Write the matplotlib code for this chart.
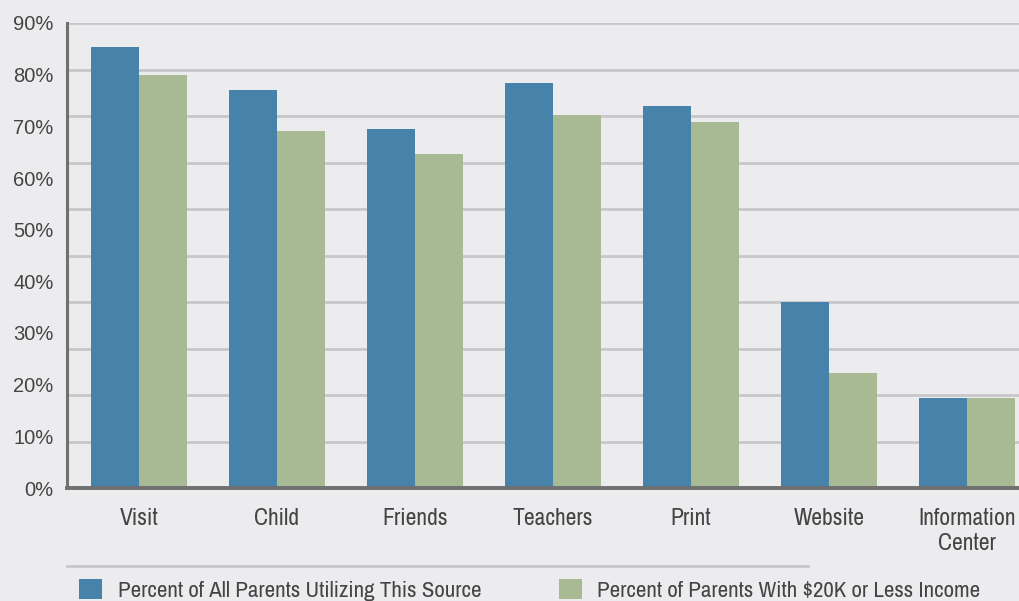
import numpy as np
import matplotlib.pyplot as plt
from matplotlib.lines import Line2D

categories = ["Visit", "Child", "Friends", "Teachers", "Print", "Website", "Information\nCenter"]
all_parents = [85.4, 77.0, 69.5, 78.4, 73.9, 36.0, 17.4]
low_income = [79.9, 69.1, 64.6, 72.2, 70.8, 22.3, 17.4]
series_labels = ["Percent of All Parents Utilizing This Source",
                 "Percent of Parents With $20K or Less Income"]
y_labels = ["0%", "10%", "20%", "30%", "40%", "50%", "60%", "70%", "80%", "90%"]

bg = "#ECECEE"
blue = "#4682A9"
green = "#A8BA94"
txt = "#444444"
narrow = ["Archivo Narrow", "DejaVu Sans"]

fig = plt.figure(figsize=(10.19, 6.01), dpi=100, facecolor=bg)
ax = fig.add_axes([67/1019, 113/601, 1 - 67/1019, 465/601])
ax.set_facecolor(bg)

x = np.arange(len(categories))
w = 0.348
b1 = ax.bar(x - w/2, all_parents, w, color=blue, zorder=3)
b2 = ax.bar(x + w/2, low_income, w, color=green, zorder=3)

ax.set_xlim(-0.522, 6.377)
ax.set_ylim(0, 90)

# gridlines don't line up with the labels in the original, keep it that way
ax.yaxis.remove_overlapping_locs = False
ax.set_yticks(np.arange(0, 91, 10))
ax.set_yticklabels(y_labels, fontsize=14.5, color=txt, family="Liberation Sans")
ax.tick_params(axis="y", which="major", length=0, pad=9.7)
ax.set_yticks(np.arange(0, 91, 9), minor=True)
ax.tick_params(axis="y", which="minor", length=0)
ax.grid(axis="y", which="minor", color="#C8C8CA", linewidth=2, zorder=0)

ax.set_xticks(x)
ax.set_xticklabels(categories, fontsize=17, color=txt, family=narrow,
                   linespacing=1.25, va="top")
ax.tick_params(axis="x", length=0, pad=14.5)

for s in ["top", "right"]:
    ax.spines[s].set_visible(False)
ax.spines["left"].set_color("#707070")
ax.spines["left"].set_linewidth(2.2)
ax.spines["bottom"].set_color("#707070")
ax.spines["bottom"].set_linewidth(2.8)
ax.spines["left"].set_zorder(4)
ax.spines["bottom"].set_zorder(4)

# separator line above the legend
fig.add_artist(Line2D([67/1019, 808/1019], [1 - 566/601, 1 - 566/601],
                      color="#C8C8CA", linewidth=2))

leg = fig.legend([b1, b2], series_labels, ncol=2, frameon=False,
                 loc="center left", bbox_to_anchor=(79/1019, 1 - 590/601),
                 prop={"family": narrow, "size": 16.5},
                 handlelength=1.0, handleheight=1.0, handletextpad=0.68,
                 columnspacing=3.4, borderaxespad=0, borderpad=0)
for t in leg.get_texts():
    t.set_color(txt)

fig.savefig("out.png", dpi=100, facecolor=bg)
